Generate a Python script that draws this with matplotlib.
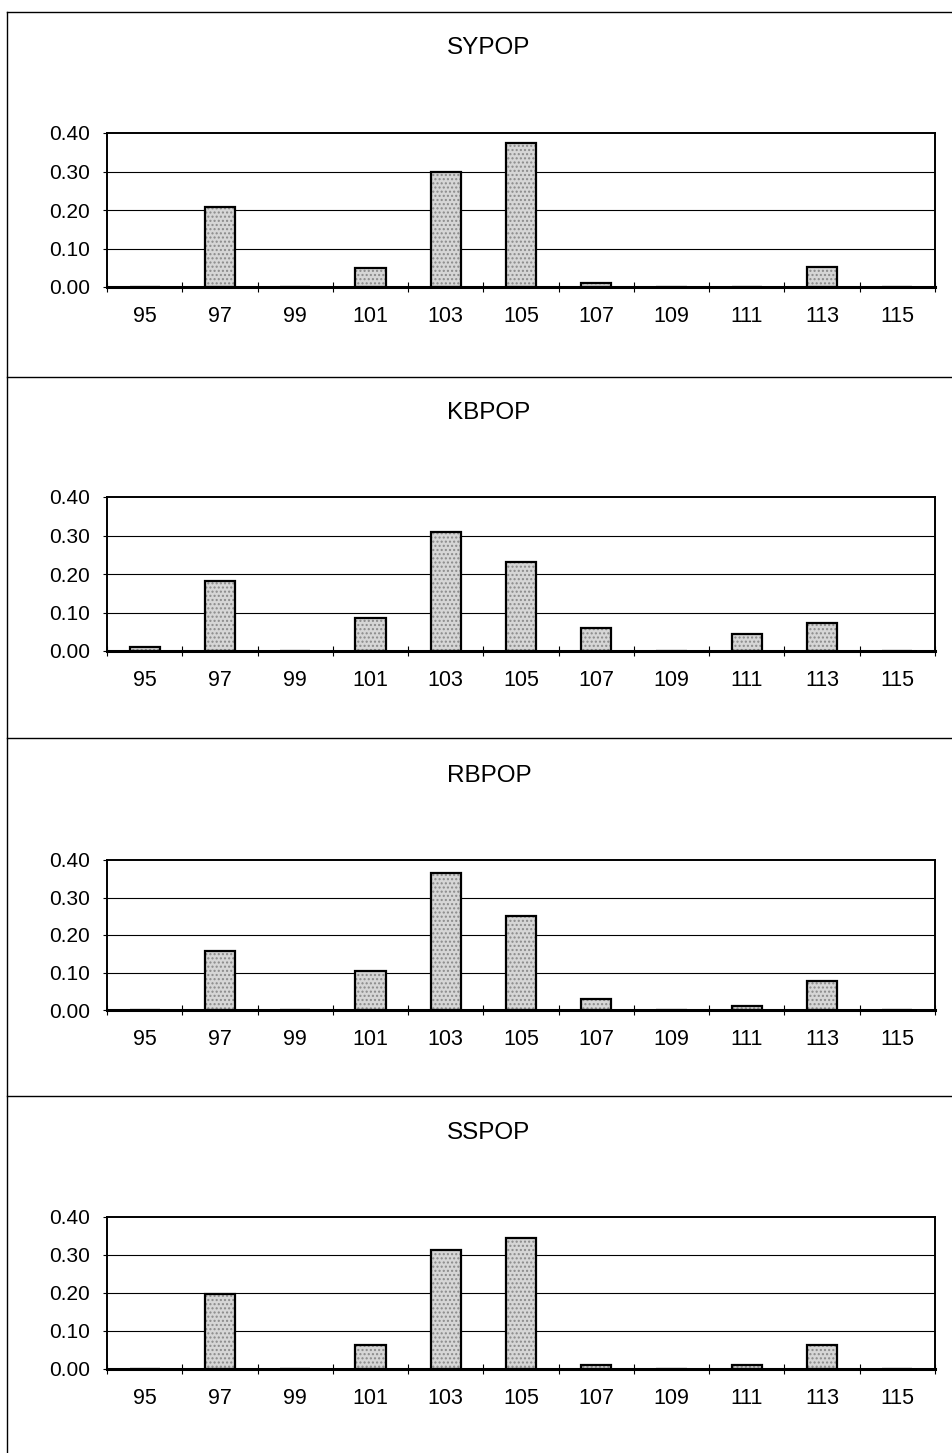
import numpy as np
import matplotlib
matplotlib.use("Agg")
import matplotlib.pyplot as plt
from matplotlib.lines import Line2D

plt.rcParams['font.family'] = ['Liberation Sans', 'DejaVu Sans']

categories = [95, 97, 99, 101, 103, 105, 107, 109, 111, 113, 115]
titles = ["SYPOP", "KBPOP", "RBPOP", "SSPOP"]
sypop = [0.0, 0.208, 0.0, 0.050, 0.300, 0.375, 0.010, 0.0, 0.0, 0.052, 0.0]
kbpop = [0.011, 0.181, 0.0, 0.086, 0.310, 0.230, 0.060, 0.0, 0.044, 0.072, 0.0]
rbpop = [0.0, 0.158, 0.0, 0.104, 0.365, 0.251, 0.029, 0.0, 0.011, 0.078, 0.0]
sspop = [0.0, 0.198, 0.0, 0.062, 0.312, 0.346, 0.011, 0.0, 0.011, 0.062, 0.0]
series = [sypop, kbpop, rbpop, sspop]

W, H = 953, 1453
fig = plt.figure(figsize=(W / 100, H / 100), dpi=100)

# pixel boxes of each plot area: (top, bottom)
boxes = [(133, 287), (497, 651), (860, 1010), (1217, 1369)]
title_y = [48, 413, 776, 1133]
dividers = [12, 377, 738, 1096]
left, right = 107, 935

x = np.arange(len(categories))
for vals, name, (top, bot), ty in zip(series, titles, boxes, title_y):
    ax = fig.add_axes([left / W, 1 - bot / H, (right - left) / W, (bot - top) / H])
    # stippled grey fill, then black outline on top
    ax.bar(x, vals, width=0.4, color="#d6d6d6", edgecolor="#8a8a8a",
           linewidth=0, hatch="....", zorder=3)
    ax.bar(x, vals, width=0.4, fill=False, edgecolor="black",
           linewidth=1.6, zorder=3.5)
    for g in (0.1, 0.2, 0.3):
        ax.axhline(g, color="black", lw=0.8, zorder=1)
    ax.set_xlim(-0.5, len(categories) - 0.5)
    ax.set_ylim(0, 0.40)
    ax.set_yticks([0, 0.1, 0.2, 0.3, 0.4])
    ax.set_yticklabels(["%.2f" % v for v in [0, 0.1, 0.2, 0.3, 0.4]], fontsize=15)
    ax.set_xticks(x)
    ax.set_xticklabels([str(c) for c in categories], fontsize=15.5)
    ax.set_xticks(np.arange(-0.5, len(categories)), minor=True)
    ax.tick_params(axis="x", which="major", length=0, pad=14)
    ax.tick_params(axis="x", which="minor", length=7, width=0.8, direction="inout")
    ax.tick_params(axis="y", length=3, width=0.8, pad=9)
    for s in ["left", "right", "top"]:
        ax.spines[s].set_linewidth(1.4)
    ax.spines["bottom"].set_linewidth(2.2)
    ax.spines["bottom"].set_zorder(4)
    fig.text(489 / W, 1 - ty / H, name, ha="center", va="center", fontsize=17.5)

# panel frame lines
fig.add_artist(Line2D([7 / W, 7 / W], [0, 1 - 12 / H], color="black", lw=1))
for d in dividers:
    fig.add_artist(Line2D([7 / W, 1], [1 - d / H, 1 - d / H], color="black", lw=1))

fig.savefig("out.png", dpi=100, facecolor="white")
